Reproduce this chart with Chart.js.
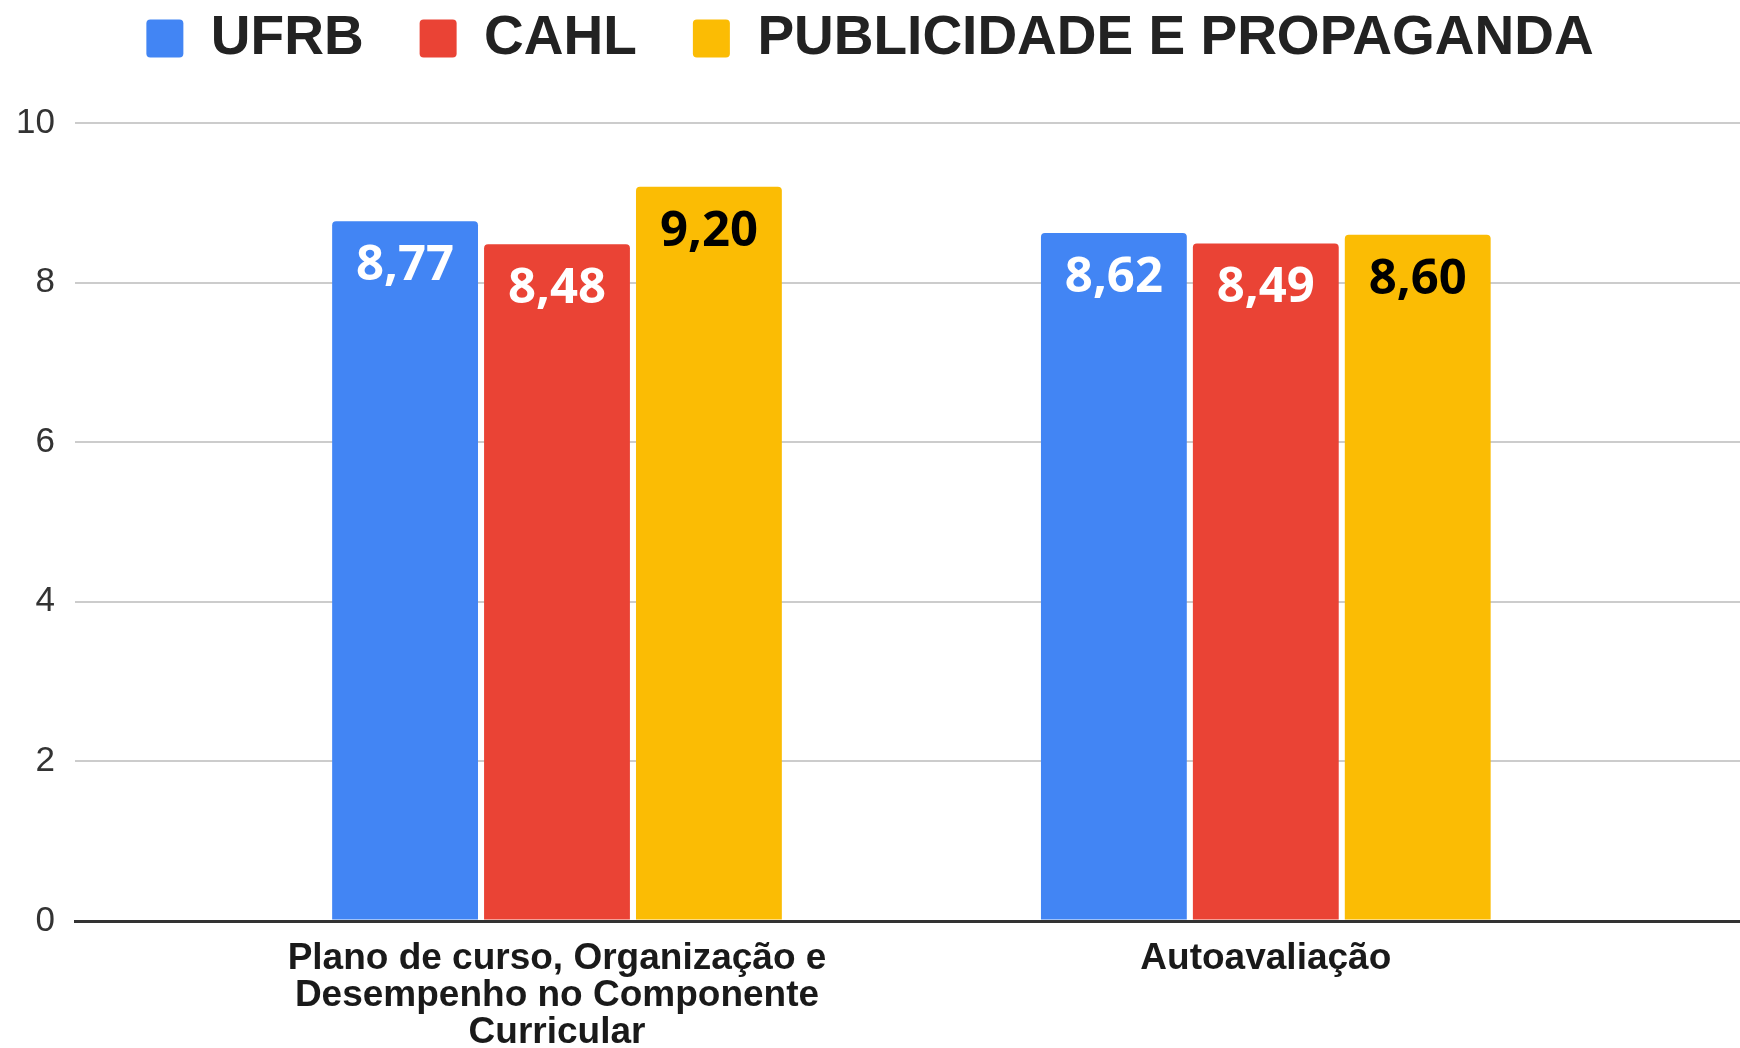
<!DOCTYPE html>
<html>
<head>
<meta charset="utf-8">
<script src="https://cdn.jsdelivr.net/npm/chart.js@4.4.1/dist/chart.umd.min.js"></script>
<style>
  body { margin: 0; background: #fff; }
  #wrap { width: 1740px; height: 1048px; }
</style>
</head>
<body>
<div id="wrap"><canvas id="notas" width="1740" height="1048"></canvas></div>
<script>
// categories and series
const categorias = [
    ['Plano de curso, Organização e', 'Desempenho no Componente', 'Curricular'],
    ['Autoavaliação']
];
const ufrb = [8.77, 8.62];
const cahl = [8.48, 8.49];
const publicidade = [9.20, 8.60];
const yTicks = [0, 2, 4, 6, 8, 10];

const cores = ['#4285F4', '#EA4335', '#FBBC04'];
const corTexto = ['#ffffff', '#ffffff', '#000000'];

function pontos(valores) {
    return valores.map((v, i) => ({ x: i, y: v }));
}

// extra room under the legend
const legendMargin = {
    id: 'legendMargin',
    afterInit(chart) {
        const fitOriginal = chart.legend.fit;
        chart.legend.fit = function () {
            fitOriginal.bind(this)();
            this.height += 47;
        };
    }
};

// value labels inside the top of each bar
const rotulos = {
    id: 'rotulos',
    afterDatasetsDraw(chart) {
        const ctx = chart.ctx;
        ctx.save();
        ctx.font = 'bold 49px "Open Sans"';
        ctx.textAlign = 'center';
        ctx.textBaseline = 'alphabetic';
        chart.data.datasets.forEach((ds, d) => {
            const meta = chart.getDatasetMeta(d);
            meta.data.forEach((bar, i) => {
                const txt = ds.data[i].y.toFixed(2).replace('.', ',');
                ctx.fillStyle = corTexto[d];
                ctx.fillText(txt, bar.x, bar.y + 59);
            });
        });
        ctx.restore();
    }
};

const ctx = document.getElementById('notas').getContext('2d');
const grafico = new Chart(ctx, {
    type: 'bar',
    data: {
        datasets: [
            { label: 'UFRB', data: pontos(ufrb), backgroundColor: cores[0] },
            { label: 'CAHL', data: pontos(cahl), backgroundColor: cores[1] },
            { label: 'PUBLICIDADE E PROPAGANDA', data: pontos(publicidade), backgroundColor: cores[2] }
        ]
    },
    options: {
        responsive: false,
        animation: false,
        layout: { padding: { top: -45, left: 0, right: 0, bottom: 0 } },
        datasets: {
            bar: {
                categoryPercentage: 0.643,
                barPercentage: 0.96,
                borderRadius: 4,
                borderWidth: 0
            }
        },
        plugins: {
            legend: {
                position: 'top',
                labels: {
                    boxWidth: 37,
                    boxHeight: 38,
                    padding: 56,
                    useBorderRadius: true,
                    borderRadius: 4,
                    color: '#222',
                    font: { family: '"Liberation Sans", Arial', size: 55, weight: 'bold' }
                }
            },
            tooltip: { enabled: false }
        },
        scales: {
            x: {
                type: 'linear',
                min: -0.68,
                max: 1.669,
                offset: false,
                afterBuildTicks: (scale) => {
                    scale.ticks = categorias.map((c, i) => ({ value: i }));
                },
                afterFit: (scale) => { scale.height = 127; },
                grid: { display: false, drawTicks: false },
                border: { display: true, color: '#333', width: 3, z: 1 },
                ticks: {
                    autoSkip: false,
                    maxRotation: 0,
                    padding: 19,
                    color: '#1a1a1a',
                    font: { family: '"Liberation Sans", Arial', size: 37, weight: 'bold', lineHeight: 1 },
                    callback: (v) => categorias[v]
                }
            },
            y: {
                min: 0,
                max: 10,
                afterBuildTicks: (scale) => {
                    scale.ticks = yTicks.map(v => ({ value: v }));
                },
                afterFit: (scale) => { scale.width = 75; },
                grid: {
                    drawTicks: false,
                    color: (c) => c.tick.value === 0 ? '#333' : '#cccccc',
                    lineWidth: (c) => c.tick.value === 0 ? 3 : 2
                },
                border: { display: false },
                ticks: {
                    padding: 20,
                    color: '#333',
                    font: { family: '"Liberation Sans", Arial', size: 35 }
                }
            }
        }
    },
    plugins: [legendMargin, rotulos]
});
</script>
</body>
</html>
